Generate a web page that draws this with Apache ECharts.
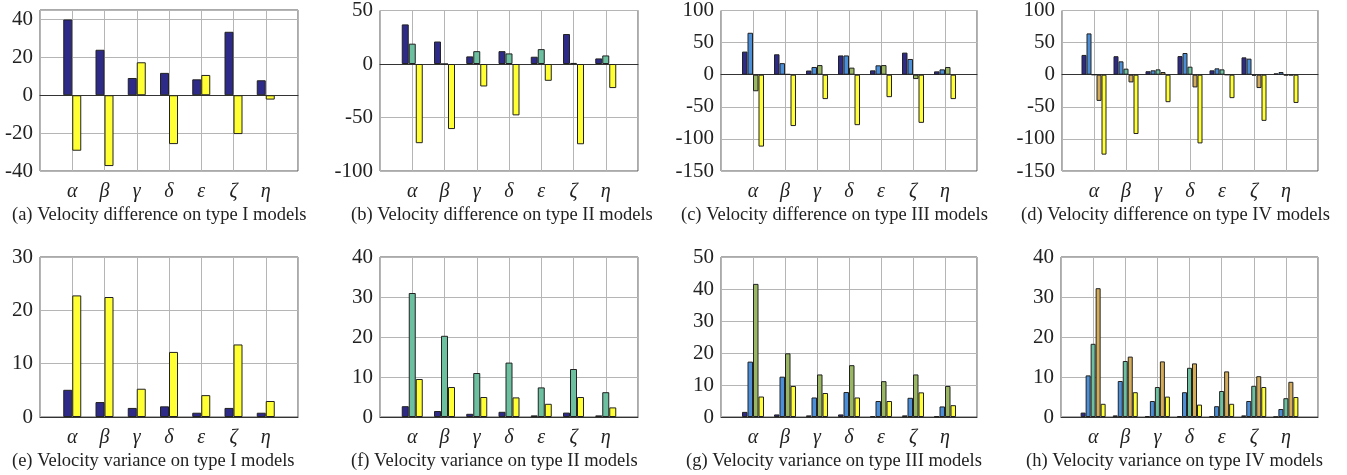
<!DOCTYPE html>
<html>
<head>
<meta charset="utf-8">
<script src="https://cdn.jsdelivr.net/npm/echarts@6/dist/echarts.min.js"></script>
<style>
  html, body { margin: 0; padding: 0; background: #fff; }
  #chart { width: 1347px; height: 475px; }
</style>
</head>
<body>
<div id="chart"></div>
<script>
// categories (padded with blanks so gridlines sit on each category)
const cats = ["α", "β", "γ", "δ", "ε", "ζ", "η"];

// (a) velocity difference, type I
const aNavy = [40, 24, 9.1, 11.8, 8.4, 33.5, 7.9];
const aYellow = [-29.3, -37.4, 17.4, -25.8, 10.7, -20.5, -2.3];
// (b) velocity difference, type II
const bNavy = [37, 21, 7.1, 12, 6.8, 28, 5.2];
const bTeal = [19, 0, 12, 9.9, 13.9, 1, 8];
const bYellow = [-74, -60.8, -21, -48, -15.7, -75, -22.5];
// (c) velocity difference, type III
const cNavy = [36, 31.8, 6.5, 30, 6.8, 34.4, 5.2];
const cBlue = [65.3, 18, 12, 30, 14.6, 24.5, 8.3];
const cOlive = [-25.8, 1, 15, 11, 15, -6.8, 12];
const cYellow = [-112, -80, -38, -78.6, -35, -75, -38];
// (d) velocity difference, type IV
const dNavy = [30.8, 28.8, 5.4, 29, 6.8, 27, 2.1];
const dBlue = [64.3, 20.8, 6.8, 33.8, 9.9, 25, 4.2];
const dTeal = [0, 9.4, 8.3, 12.5, 8.3, -1.5, -1];
const dTan = [-40.8, -12, 4.2, -19.8, 0, -20.8, -1];
const dYellow = [-124.5, -92.4, -42.8, -107, -36.5, -71.9, -44];
// (e) velocity variance, type I
const eNavy = [5.1, 2.8, 1.7, 2.0, 0.8, 1.7, 0.8];
const eYellow = [22.8, 22.5, 5.3, 12.2, 4.1, 13.6, 3.0];
// (f) velocity variance, type II
const fNavy = [2.7, 1.5, 0.8, 1.3, 0.4, 1.1, 0.4];
const fTeal = [31, 20.3, 11, 13.6, 7.4, 12, 6.2];
const fYellow = [9.5, 7.5, 5.0, 4.9, 3.3, 5.0, 2.4];
// (g) velocity variance, type III
const gNavy = [1.6, 0.8, 0.5, 0.8, 0.3, 0.5, 0.2];
const gBlue = [17.3, 12.6, 6.1, 7.8, 5.0, 6.0, 3.3];
const gOlive = [41.6, 19.9, 13.3, 16.2, 11.2, 13.3, 9.7];
const gYellow = [6.4, 9.7, 7.5, 6.1, 5.0, 7.7, 3.7];
// (h) velocity variance, type IV
const hNavy = [1.1, 0.4, 0.2, 0.2, 0.2, 0.4, 0.05];
const hBlue = [10.4, 9.0, 4.0, 6.2, 2.7, 4.0, 2.0];
const hTeal = [18.3, 14.0, 7.5, 12.3, 6.5, 7.8, 4.7];
const hTan = [32.2, 15.1, 13.9, 13.4, 11.4, 10.2, 8.8];
const hYellow = [3.3, 6.2, 5.1, 3.1, 3.3, 7.5, 5.0];

const NAVY = "#2e2a88", BLUE = "#4a8fd8", OLIVE = "#9ab664", TEAL = "#6cc0a0", TAN = "#d4ac58", YELLOW = "#ffff33";
const FONT = '"Liberation Serif", "Times New Roman", serif';

const panels = [
  { left: 40, top: 10, width: 258, height: 161, min: -40, max: 45, step: 20, bw: 9,
    series: [[aNavy, NAVY], [aYellow, YELLOW]], cap: "(a) Velocity difference on type I models", cx: 12, cy: 215 },
  { left: 380, top: 9, width: 258, height: 162, min: -100, max: 50, step: 50, bw: 7,
    series: [[bNavy, NAVY], [bTeal, TEAL], [bYellow, YELLOW]], cap: "(b) Velocity difference on type II models", cx: 351, cy: 215 },
  { left: 721, top: 10, width: 256, height: 161, min: -150, max: 100, step: 50, bw: 5.5,
    series: [[cNavy, NAVY], [cBlue, BLUE], [cOlive, OLIVE], [cYellow, YELLOW]], cap: "(c) Velocity difference on type III models", cx: 681, cy: 215 },
  { left: 1062, top: 10, width: 256, height: 161, min: -150, max: 100, step: 50, bw: 5,
    series: [[dNavy, NAVY], [dBlue, BLUE], [dTeal, TEAL], [dTan, TAN], [dYellow, YELLOW]], cap: "(d) Velocity difference on type IV models", cx: 1021, cy: 215 },
  { left: 40, top: 257, width: 258, height: 160, min: 0, max: 30, step: 10, bw: 9,
    series: [[eNavy, NAVY], [eYellow, YELLOW]], cap: "(e) Velocity variance on type I models", cx: 12, cy: 461 },
  { left: 380, top: 257, width: 258, height: 160, min: 0, max: 40, step: 10, bw: 7,
    series: [[fNavy, NAVY], [fTeal, TEAL], [fYellow, YELLOW]], cap: "(f) Velocity variance on type II models", cx: 351, cy: 461 },
  { left: 721, top: 257, width: 256, height: 160, min: 0, max: 50, step: 10, bw: 5.5,
    series: [[gNavy, NAVY], [gBlue, BLUE], [gOlive, OLIVE], [gYellow, YELLOW]], cap: "(g) Velocity variance on type III models", cx: 686, cy: 461 },
  { left: 1061, top: 257, width: 257, height: 160, min: 0, max: 40, step: 10, bw: 5,
    series: [[hNavy, NAVY], [hBlue, BLUE], [hTeal, TEAL], [hTan, TAN], [hYellow, YELLOW]], cap: "(h) Velocity variance on type IV models", cx: 1026, cy: 461 }
];

const xCats = [""].concat(cats, [""]);
const grid = [], xAxis = [], yAxis = [], series = [], graphic = [];

panels.forEach(function (p, i) {
  grid.push({ left: p.left, top: p.top, width: p.width, height: p.height,
    show: true, borderColor: "#555", borderWidth: 1, backgroundColor: "#fff" });
  xAxis.push({
    type: "category", gridIndex: i, data: xCats, boundaryGap: false,
    axisLine: { onZero: true, lineStyle: { color: "#333", width: 1 } },
    axisTick: { show: false },
    axisLabel: { show: true, interval: 0, margin: 11, color: "#222", fontFamily: FONT, fontStyle: "italic", fontSize: 20 },
    splitLine: { show: true, interval: 0, lineStyle: { color: "#b5b5b5", width: 1 } }
  });
  yAxis.push({
    type: "value", gridIndex: i, min: p.min, max: p.max, interval: p.step,
    axisLine: { show: false }, axisTick: { show: false },
    axisLabel: { margin: 7, color: "#222", fontFamily: FONT, fontSize: 21,
      formatter: function (v) { return v % p.step === 0 ? String(v) : ""; } },
    splitLine: { lineStyle: { color: "#b5b5b5", width: 1 } }
  });
  p.series.forEach(function (s) {
    series.push({
      type: "bar", xAxisIndex: i, yAxisIndex: i,
      data: [null].concat(s[0], [null]),
      barWidth: p.bw, barGap: "0%",
      itemStyle: { color: s[1], borderColor: "#222", borderWidth: 1 },
      silent: true, animation: false
    });
  });
  graphic.push({ type: "text", x: p.cx, y: p.cy,
    style: { text: p.cap, font: "18.5px " + FONT, fill: "#222", textVerticalAlign: "middle" } });
});

const chart = echarts.init(document.getElementById("chart"));
chart.setOption({ animation: false, grid: grid, xAxis: xAxis, yAxis: yAxis, series: series, graphic: graphic });
</script>
</body>
</html>
